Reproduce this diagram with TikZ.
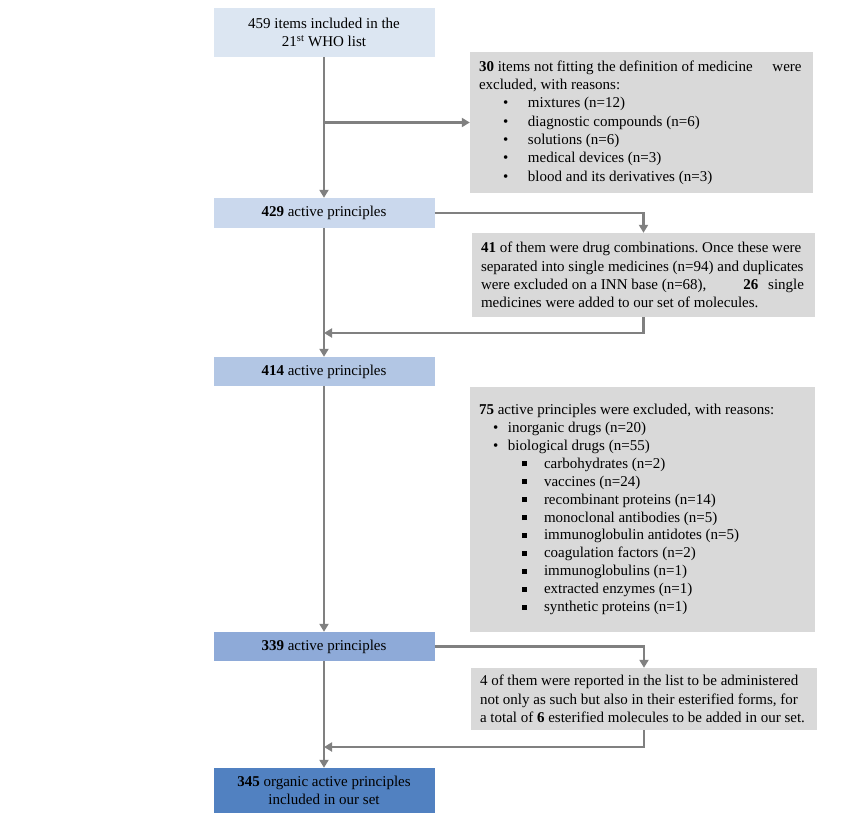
\documentclass[tikz,border=0pt]{standalone}
\usepackage{fontspec}
\setmainfont{Liberation Serif}
\usetikzlibrary{arrows.meta}
\definecolor{boxa}{HTML}{DCE6F2}
\definecolor{boxb}{HTML}{CAD8ED}
\definecolor{boxc}{HTML}{B2C6E4}
\definecolor{boxd}{HTML}{8EAAD8}
\definecolor{boxe}{HTML}{5181C1}
\definecolor{noteg}{HTML}{D9D9D9}
\definecolor{lineg}{HTML}{808080}
\newcommand{\dotitem}[1]{\hspace*{28pt}\makebox[25pt][l]{\textbullet}#1}
\newcommand{\subdot}[1]{\hspace*{18pt}\makebox[15pt][l]{\textbullet}#1}
\newcommand{\sqitem}[1]{\hspace*{47pt}\makebox[22pt][l]{\rule[2pt]{5pt}{5pt}}#1}
\frenchspacing
\begin{document}
\begin{tikzpicture}[x=1pt, y=-1pt, font=\fontsize{15}{18.3}\selectfont,
  count/.style={minimum width=221pt, inner sep=0pt, align=center},
  note/.style={fill=noteg, inner xsep=5pt, inner ysep=0pt, align=justify},
  link/.style={-{Triangle[length=8pt,width=9pt]}, line width=2.8pt, draw=lineg}]
  \useasboundingbox (0,0) rectangle (868,822);
  \node[count, fill=boxa, minimum height=49pt] (b1) at (324,32.5) {459 items included in the\\21\textsuperscript{st} WHO list};
  \node[count, fill=boxb, minimum height=30pt] (b2) at (324,213) {\textbf{429} active principles};
  \node[count, fill=boxc, minimum height=29pt] (b3) at (324,371.5) {\textbf{414} active principles};
  \node[count, fill=boxd, minimum height=29pt] (b4) at (324,646.5) {\textbf{339} active principles};
  \node[count, fill=boxe, minimum height=45pt] (b5) at (324,790.5) {\textbf{345} organic active principles\\included in our set};
  \node[note, minimum width=343pt, minimum height=141pt, text width=333pt] (g1) at (641.5,122.5)
    {\hspace*{4pt}\textbf{30} items not fitting the definition of medicine\hspace{16pt} were\\
     \hspace*{4pt}excluded, with reasons:\\
     \dotitem{mixtures (n=12)}\\
     \dotitem{diagnostic compounds (n=6)}\\
     \dotitem{solutions (n=6)}\\
     \dotitem{medical devices (n=3)}\\
     \dotitem{blood and its derivatives (n=3)}};
  \node[note, minimum width=343pt, minimum height=84pt, text width=333pt] (g2) at (643.5,275)
    {\hspace*{4pt}\textbf{41} of them were drug combinations. Once these were\\
     \hspace*{4pt}separated into single medicines (n=94) and duplicates\\
     \hspace*{4pt}were excluded on a INN base (n=68),\hspace{37pt}\textbf{26}\hspace{6pt} single\\
     \hspace*{4pt}medicines were added to our set of molecules.};
  \node[note, minimum width=345pt, minimum height=245pt, text width=335pt, font=\fontsize{15}{17.9}\selectfont] (g3) at (642.5,509.5)
    {\hspace*{4pt}\textbf{75} active principles were excluded, with reasons:\\
     \subdot{inorganic drugs (n=20)}\\
     \subdot{biological drugs (n=55)}\\
     \sqitem{carbohydrates (n=2)}\\
     \sqitem{vaccines (n=24)}\\
     \sqitem{recombinant proteins (n=14)}\\
     \sqitem{monoclonal antibodies (n=5)}\\
     \sqitem{immunoglobulin antidotes (n=5)}\\
     \sqitem{coagulation factors (n=2)}\\
     \sqitem{immunoglobulins (n=1)}\\
     \sqitem{extracted enzymes (n=1)}\\
     \sqitem{synthetic proteins (n=1)}};
  \node[note, minimum width=346pt, minimum height=62pt, text width=336pt] (g4) at (644,699)
    {\hspace*{4pt}4 of them were reported in the list to be administered\\
     \hspace*{4pt}not only as such but also in their esterified forms, for\\
     \hspace*{4pt}a total of \textbf{6} esterified molecules to be added in our set.};
  \coordinate (s1) at (b1.south |- g1.west);
  \coordinate (j1) at (324,333);
  \coordinate (j2) at (324,747);
  \draw[link] (b1.south) -- (b2.north);
  \draw[link] (s1) -- (g1.west);
  \draw[link] (b2.east) -| (g2.north);
  \draw[link] (g2.south) |- (j1);
  \draw[link] (b2.south) -- (b3.north);
  \draw[link] (b3.south) -- (b4.north);
  \draw[link] (b4.east) -| (g4.north);
  \draw[link] (g4.south) |- (j2);
  \draw[link] (b4.south) -- (b5.north);
\end{tikzpicture}
\end{document}
